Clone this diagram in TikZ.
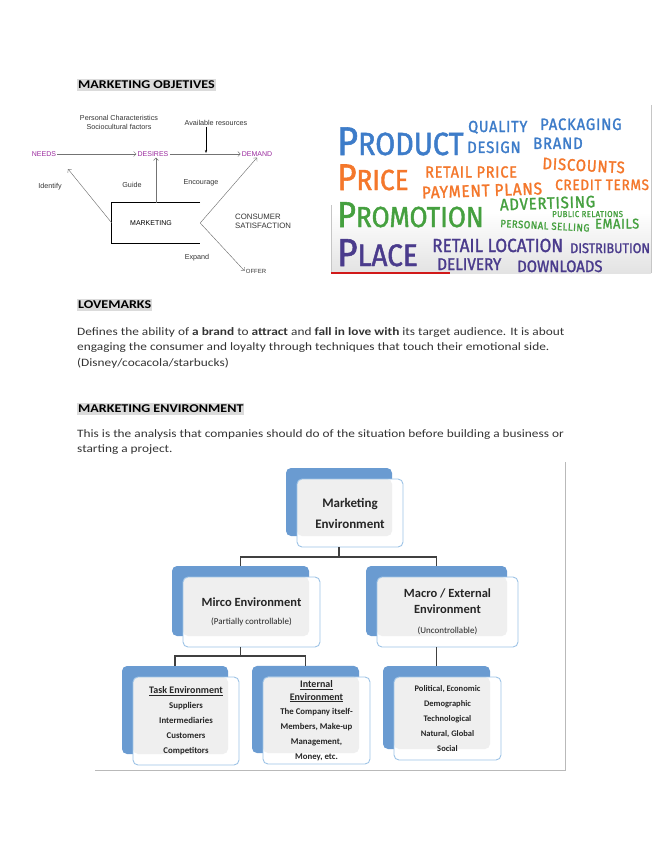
\documentclass[tikz,border=0pt]{standalone}
\usepackage{fontspec}
\setmainfont{Carlito}
\newfontfamily\bodyfont[FakeStretch=1.18]{Carlito}
\newfontfamily\diagfont{Liberation Sans}
\newfontfamily\cloudfont[FakeStretch=0.9, FakeBold=1.5]{Fira Sans}
\newfontfamily\cloudsmall[FakeStretch=0.9, FakeBold=1.5, LetterSpace=5]{Fira Sans}
\usetikzlibrary{arrows.meta, positioning, calc}
\definecolor{needpurple}{HTML}{9A2A9E}
\definecolor{prodblue}{HTML}{3D7CC9}
\definecolor{priceorange}{HTML}{F4772B}
\definecolor{promogreen}{HTML}{45A03F}
\definecolor{placepurple}{HTML}{4A3B8C}
\definecolor{envblue}{HTML}{6A9BD1}
\definecolor{envedge}{HTML}{9DC3E6}
\definecolor{envgray}{HTML}{EFEFEF}

\begin{document}
\begin{tikzpicture}[
    x=1pt, y=-1pt,
    head/.style={fill=gray!28, inner xsep=1pt, inner ysep=2.5pt, anchor=west, font=\bodyfont\fontsize{11.9}{13}\selectfont\bfseries},
    para/.style={anchor=north west, align=left, inner sep=0pt, text=black!80, font=\bodyfont\fontsize{11.3}{15.6}\selectfont},
    lbl/.style={font=\diagfont\fontsize{7.2}{9}\selectfont, text=black!80, inner sep=1pt},
    want/.style={font=\diagfont\fontsize{7}{8}\selectfont, text=needpurple, inner sep=1pt},
    link/.style={draw=black!55, line width=0.45pt, -{Straight Barb[length=2.5pt]}},
    cloud/.style={font=\cloudfont, anchor=base west, inner sep=0pt},
    cloudw/.style={font=\cloudsmall, anchor=base west, inner sep=0pt},
    front/.style={draw=envedge, line width=0.9pt, rounded corners=5pt, fill=white, align=center, outer sep=0pt,
        text=black!85, font=\bfseries,
        preaction={fill=envblue, transform canvas={xshift=-11pt, yshift=11pt}},
        path picture={\fill[envgray] (path picture bounding box.north west) rectangle ($(path picture bounding box.south east)+(-11,-11)$);}},
    tree/.style={draw=black!75, line width=1.2pt}
]
\useasboundingbox (0,0) rectangle (655,848);

% --- Marketing objetives ---
\node[head] (hobj) at (77,85) {MARKETING OBJETIVES};

\node[lbl, align=center] (pers) at (119,122) {Personal Characteristics\\Sociocultural factors};
\node[lbl] (res) at (216,123) {Available resources};
\node[want] (needs) at (44,154) {NEEDS};
\node[want] (desires) at (153,154) {DESIRES};
\node[want] (demand) at (257,154) {DEMAND};
\node[font=\diagfont\fontsize{7}{8}\selectfont, minimum width=88pt, minimum height=40pt, inner sep=0pt] (mkt) at (156,223) {MARKETING\hspace*{10pt}};
\draw[line width=0.8pt] (mkt.north east) -- (mkt.north west) -- (mkt.south west) -- (mkt.south east);
\node[lbl, anchor=west, align=left] (sat) at (234,221) {\fontsize{7.8}{10}\selectfont CONSUMER\\\fontsize{7.8}{10}\selectfont SATISFACTION};
\node[lbl] (offer) at (256,271) {\fontsize{6}{6}\selectfont OFFER};
\coordinate (idf) at (68,169);

\draw[link] (needs) -- (desires);
\draw[link] (desires) -- (demand);
\draw[line width=1pt, -{Stealth[length=3pt]}] (res.south -| 206,0) -- (206,153);
\draw[link] (mkt.west) -- (idf);
\draw[link] (mkt.north) -- (mkt.north |- desires.south);
\draw[link] (mkt.east) -- (demand.south);
\draw[link] (mkt.east) -- (offer.west);

\node[lbl] (identify) at (50,187) {Identify};
\node[lbl] (guide) at (132,185) {Guide};
\node[lbl] (encourage) at (201,183) {Encourage};
\node[lbl] (expand) at (197,258) {Expand};

% --- 4P word cloud ---
\fill[white] (331,105) rectangle (651,273);
\shade[top color=white, bottom color=gray!22] (331,212) rectangle (651,273);
\draw[gray!45, line width=0.6pt] (331,205) -- (331,273);
\draw[gray!45, line width=0.6pt] (651,105) -- (651,273);
\draw[red!80!black!90, line width=1.4pt] (331,273) -- (450,273);

\node[cloud, text=prodblue] (prodw) at (337,155) {\fontsize{40}{40}\selectfont P\fontsize{32}{32}\selectfont RODUCT};
\node[cloudw, text=prodblue] (quality) at (468,132) {\fontsize{16}{16}\selectfont QUALITY};
\node[cloudw, text=prodblue] (packaging) at (540,130) {\fontsize{16.5}{17}\selectfont PACKAGING};
\node[cloudw, text=prodblue] (design) at (467,153) {\fontsize{16.5}{17}\selectfont DESIGN};
\node[cloudw, text=prodblue] (brand) at (533,149) {\fontsize{16.5}{17}\selectfont BRAND};

\node[cloud, text=priceorange] (pricew) at (337,190) {\fontsize{37}{37}\selectfont P\fontsize{29}{29}\selectfont RICE};
\node[cloudw, text=priceorange] (retailp) at (425,177.5) {\fontsize{16}{16}\selectfont RETAIL PRICE};
\node[cloudw, text=priceorange, rotate=-3] (discounts) at (542,169) {\fontsize{16.5}{17}\selectfont DISCOUNTS};
\node[cloudw, text=priceorange] (credit) at (555,190) {\fontsize{15}{15}\selectfont CREDIT TERMS};
\node[cloudw, text=priceorange, rotate=2] (payment) at (422,198.5) {\fontsize{17}{18}\selectfont PAYMENT PLANS};

\node[cloud, text=promogreen] (promow) at (337,227) {\fontsize{36}{36}\selectfont P\fontsize{29}{29}\selectfont ROMOTION};
\node[cloudw, text=promogreen, rotate=2] (advert) at (500,210.5) {\fontsize{16.5}{18}\selectfont ADVERTISING};
\node[cloudw, text=promogreen] (public) at (552,217) {\fontsize{8.6}{10}\selectfont PUBLIC RELATIONS};
\node[cloudw, text=promogreen, rotate=-3] (selling) at (500,227) {\fontsize{10.5}{11}\selectfont PERSONAL SELLING};
\node[cloudw, text=promogreen] (emails) at (595,228.5) {\fontsize{14}{14}\selectfont EMAILS};

\node[cloud, text=placepurple] (placew) at (337,266) {\fontsize{39}{39}\selectfont P\fontsize{31}{31}\selectfont LACE};
\node[cloud, text=placepurple] (location) at (432,252) {\fontsize{19}{19}\selectfont RETAIL LOCATION};
\node[cloud, text=placepurple] (distrib) at (570,253) {\fontsize{14}{15}\selectfont DISTRIBUTION};
\node[cloud, text=placepurple] (delivery) at (437,270) {\fontsize{17}{18}\selectfont DELIVERY};
\node[cloud, text=placepurple] (downloads) at (517,272) {\fontsize{16.5}{18}\selectfont DOWNLOADS};

% --- Lovemarks ---
\node[head] (hlove) at (77,305) {LOVEMARKS};
\node[para] (plove) at (77,327) {Defines the ability of \textbf{a brand} to \textbf{attract} and \textbf{fall in love with} its target audience. It is about\\
engaging the consumer and loyalty through techniques that touch their emotional side.\\
(Disney/cocacola/starbucks)};

% --- Marketing environment ---
\node[head] (henv) at (77,409) {MARKETING ENVIRONMENT};
\node[para] (penv) at (77,429) {This is the analysis that companies should do of the situation before building a business or\\
starting a project.};

\draw[gray!55, line width=0.7pt] (95,770) -- (565,770) -- (565,462);

\node[front, minimum width=106pt, minimum height=68pt, font=\bfseries\fontsize{13}{21}\selectfont] (root) at (350,513) {Marketing\\Environment};
\node[front, minimum width=137pt, minimum height=70pt, font=\bfseries\fontsize{12.5}{15}\selectfont] (micro) at (251.5,612) {Mirco Environment\\[3pt]{\mdseries\fontsize{9}{11}\selectfont (Partially controllable)}};
\node[front, minimum width=141pt, minimum height=70pt, font=\bfseries\fontsize{12.5}{15.5}\selectfont] (macro) at (447.5,612) {Macro / External\\Environment\\[5pt]{\mdseries\fontsize{9}{11}\selectfont (Uncontrollable)}};
\node[front, minimum width=106pt, minimum height=88pt, font=\bfseries\fontsize{8.8}{15}\selectfont] (task) at (186,721) {{\fontsize{10}{15}\selectfont\underline{Task Environment}}\\Suppliers\\Intermediaries\\Customers\\Competitors};
\node[front, minimum width=107pt, minimum height=87pt, font=\bfseries\fontsize{8.8}{14.8}\selectfont] (internal) at (316.5,720.5) {{\fontsize{10}{13}\selectfont\underline{Internal}}\\[-2pt]{\fontsize{10}{13}\selectfont\underline{Environment}}\\The Company itself-\\Members, Make-up\\Management,\\Money, etc.};
\node[front, minimum width=107pt, minimum height=83pt, font=\bfseries\fontsize{8.5}{14.8}\selectfont] (factors) at (447.5,718.5) {Political, Economic\\Demographic\\Technological\\Natural, Global\\Social};

\draw[tree] ($(root.south)+(-11,0)$) -- ++(0,10) -| ($(micro.north)+(-11,-11)$);
\draw[tree] ($(root.south)+(-11,10)$) -| ($(macro.north)+(-11,-11)$);
\draw[tree] ($(micro.south)+(-11,0)$) -- ++(0,9) -| ($(task.north)+(-11,-11)$);
\draw[tree] ($(micro.south)+(-11,9)$) -| ($(internal.north)+(-11,-11)$);
\draw[tree] ($(macro.south)+(-11,0)$) -- ($(factors.north)+(-11,-11)$);
\end{tikzpicture}
\end{document}
